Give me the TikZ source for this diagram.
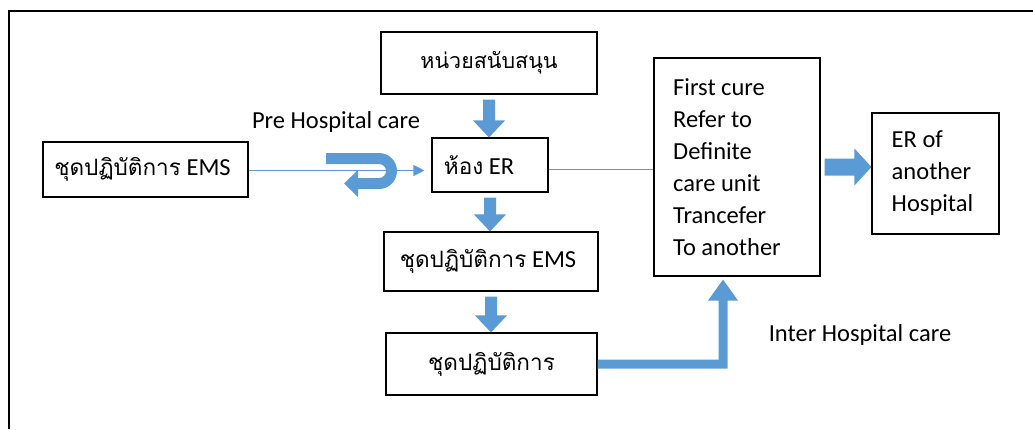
\documentclass[tikz,border=0pt]{standalone}
\usepackage{fontspec}
\setmainfont{Carlito}
\newfontfamily\thai[Script=Thai,Scale=0.92]{Loma}
\usetikzlibrary{arrows.meta,calc}
\definecolor{flowblue}{HTML}{5B9BD5}

% vertical block arrow: shaft from #1 down to the tip #2
\newcommand{\blockdown}[2]{%
  \fill[flowblue] let \p1=#1, \p2=#2 in
    (\x1-6pt,\y1) -- (\x1+6pt,\y1) -- (\x1+6pt,\y2+17pt) -- (\x1+16pt,\y2+17pt)
    -- (\x1,\y2) -- (\x1-16pt,\y2+17pt) -- (\x1-6pt,\y2+17pt) -- cycle;}

\begin{document}
\begin{tikzpicture}[x=1pt,y=1pt,
  box/.style={draw=black, line width=1.1pt, inner sep=0pt, align=left,
    font=\fontsize{24.5}{32}\selectfont},
  lbl/.style={font=\fontsize{24.5}{30}\selectfont, inner sep=0pt},
  thinflow/.style={draw=flowblue, line width=1pt}]
\useasboundingbox (0,0) rectangle (1033,-429);

% frame
\draw[line width=2pt] (1033,-11) -- (9,-11) -- (9,-429);

% boxes
\node[box, minimum width=205pt, minimum height=55pt] (ems) at (145.5,-169.5)
  {{\thai ชุดปฏิบัติการ} EMS\hspace*{6pt}};
\node[box, minimum width=216pt, minimum height=62pt] (sup) at (489,-63)
  {{\thai\fontsize{23.3}{30}\selectfont หน่วยสนับสนุน}};
\node[box, minimum width=116pt, minimum height=54pt] (er) at (490,-165)
  {{\thai ห้อง} ER\hspace*{22pt}};
\node[box, minimum width=214pt, minimum height=59pt] (mid) at (491,-261.5)
  {{\thai ชุดปฏิบัติการ} EMS\hspace*{6pt}};
\node[box, minimum width=211pt, minimum height=62pt] (bot) at (491.5,-364)
  {\thai ชุดปฏิบัติการ};
\node[box, minimum width=166pt, minimum height=218pt] (first) at (737,-167)
  {First cure\\Refer to\\Definite\\care unit\\Trancefer\\To another\hspace*{20pt}};
\node[box, minimum width=127pt, minimum height=121pt] (erof) at (935.5,-173.5)
  {ER of\\another\\Hospital\hspace*{6pt}};

% labels
\node[lbl] (pre) at (336,-122) {Pre Hospital care};
\node[lbl] (inter) at (860,-335) {Inter Hospital care};

% thin connectors
\draw[thinflow, shorten >=7pt, -{Triangle[length=11pt,width=11pt]}]
  ([yshift=-1pt]ems.east) -- ([yshift=-1pt]ems.east -| er.west);
\draw[thinflow] ([yshift=-4pt]er.east) -- ([yshift=-4pt]er.east -| first.west);

% U-turn arrow on the entry line
\fill[flowblue] (326,-153) -- (379,-153) arc[start angle=90, end angle=-90, radius=18pt]
  -- (358,-189) -- (358,-197) -- (344,-183.5) -- (358,-170) -- (358,-178) -- (379,-178)
  arc[start angle=-90, end angle=90, radius=7pt] -- (326,-164) -- cycle;

% block arrows down the column
\blockdown{($(sup.south)+(0,-5)$)}{(er.north)}
\blockdown{($(er.south)+(0,-5)$)}{(mid.north)}
\blockdown{($(mid.south)+(0,-5)$)}{(bot.north)}

% block arrow to the other hospital
\fill[flowblue] let \p1=($(first.east)+(4,0)$), \p2=(first.east -| erof.west) in
  (\x1,\y1+8.5pt) -- (\x2-17pt,\y1+8.5pt) -- (\x2-17pt,\y1+18.5pt) -- (\x2,\y1)
  -- (\x2-17pt,\y1-18.5pt) -- (\x2-17pt,\y1-8.5pt) -- (\x1,\y1-8.5pt) -- cycle;

% elbow block arrow from the last unit up to the first-cure box
\fill[flowblue] let \p1=(bot.east), \p2=($(first.south)+(-14,-3)$) in
  (\x1,\y1+4.5pt) -- (\x2-4.5pt,\y1+4.5pt) -- (\x2-4.5pt,\y2-21pt) -- (\x2-15pt,\y2-21pt)
  -- (\x2,\y2) -- (\x2+15pt,\y2-21pt) -- (\x2+4.5pt,\y2-21pt) -- (\x2+4.5pt,\y1-4.5pt)
  -- (\x1,\y1-4.5pt) -- cycle;
\end{tikzpicture}
\end{document}
